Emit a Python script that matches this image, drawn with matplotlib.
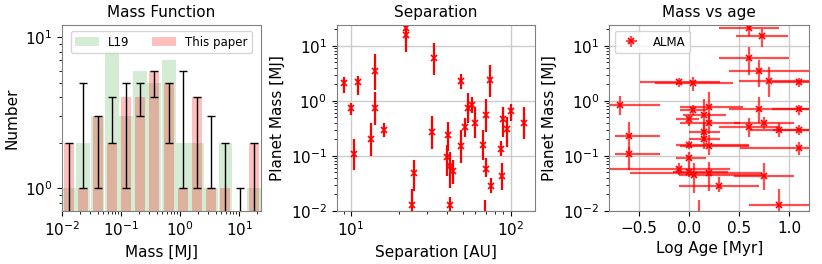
import numpy as np
import matplotlib
matplotlib.use("Agg")
import matplotlib.pyplot as plt
from matplotlib.ticker import NullFormatter

# ---------------- data ----------------
# Mass function (log-spaced bins in Jupiter masses)
bin_lo_log = -2.0
bin_hi_log = 1.37
n_bins = 14
counts_L19 = [1, 2, 3, 8, 3, 6, 5, 7, 2, 2, 1, 2, 0, 1]
counts_paper = [2, 1, 3, 2, 4, 4, 6, 5, 1, 4, 1, 1, 0, 2]
range_low = [0, 1, 1, 2, 1, 3, 4, 2, 1, 1, 1, 0, 0, 0]
range_high = [2, 5, 3, 4, 5, 5, 6, 5, 6, 4, 3, 2, 1, 2]

# Separation panel
sep_au = [9.0, 10.0, 10.5, 11.1, 13.3, 14.1, 14.1, 16.1, 22.1, 22.1, 24.2, 24.9,
          32.4, 33.3, 39.7, 40.7, 41.7, 41.7, 43.7, 48.6, 48.6, 51.8, 53.8, 57.5,
          59.8, 67.5, 69.7, 69.7, 69.0, 74.3, 75.0, 86.5, 87.9, 90.0, 95.3, 100.0, 121.0]
sep_mass = [2.12, 0.73, 0.11, 2.2, 0.20, 3.5, 0.75, 0.30, 20.7, 15.6, 0.0127, 0.048,
            0.27, 6.1, 0.096, 0.24, 0.066, 0.0127, 0.053, 2.28, 0.152, 0.34, 0.73, 0.83,
            0.40, 0.16, 0.55, 0.059, 0.008, 2.38, 0.029, 0.136, 0.043, 0.46, 0.31, 0.66, 0.40]
sep_mass_lo = [1.40, 0.55, 0.055, 1.27, 0.099, 1.56, 0.37, 0.22, 12.0, 7.8, 0.008, 0.023,
               0.132, 2.93, 0.043, 0.123, 0.026, 0.010, 0.031, 1.61, 0.073, 0.22, 0.39, 0.59,
               0.21, 0.083, 0.27, 0.042, 0.004, 1.18, 0.021, 0.098, 0.024, 0.22, 0.146, 0.43, 0.20]
sep_mass_hi = [2.73, 0.93, 0.20, 2.81, 0.39, 6.95, 1.46, 0.40, 30.0, 24.0, 0.0255, 0.086,
               0.53, 11.0, 0.16, 0.415, 0.118, 0.018, 0.086, 3.05, 0.29, 0.48, 1.36, 1.18,
               0.78, 0.29, 1.07, 0.09, 0.0156, 4.45, 0.039, 0.19, 0.075, 0.78, 0.50, 0.87, 0.78]

# Mass vs age panel
log_age = [0.60, 0.73, 0.60, 0.70, 0.80, 1.10, -0.10, 0.04, -0.69, 0.04, 0.20, 0.00,
           0.15, 0.20, 0.15, 0.15, 0.00, 0.20, -0.60, -0.60, 0.00, -0.10, 0.00, 0.05,
           0.20, 0.75, 0.30, 0.90, 0.60, 0.75, 0.70, 0.90, 1.10, 1.10, 1.10, 0.10]
log_age_lo = [0.30, 0.47, 0.30, 0.40, 0.50, 0.83, -0.49, -0.34, -1.09, -0.09, -0.09, -0.13,
              -0.06, -0.09, 0.00, 0.00, -0.13, -0.09, -0.74, -0.74, -0.13, -0.90, -0.16, -0.10,
              -0.59, 0.45, -0.10, 0.60, 0.30, 0.45, 0.40, 0.61, 0.83, 0.84, 0.51, -0.20]
log_age_hi = [0.90, 0.99, 1.00, 1.30, 1.30, 1.40, 0.31, 0.44, -0.29, 0.17, 0.54, 0.10,
              0.37, 0.51, 0.31, 0.31, 0.60, 0.60, -0.29, -0.29, 0.17, 0.41, 0.39, 0.74,
              0.73, 1.05, 0.70, 1.20, 0.91, 1.05, 1.30, 1.20, 1.40, 1.40, 1.40, 0.40]
age_mass = [20.7, 15.2, 6.1, 3.5, 2.28, 2.21, 2.21, 2.12, 0.83, 0.68, 0.76, 0.46,
            0.55, 0.40, 0.27, 0.20, 0.16, 0.15, 0.23, 0.11, 0.09, 0.059, 0.051, 0.0445,
            0.048, 0.043, 0.029, 0.0127, 0.33, 0.40, 0.70, 0.29, 0.70, 0.29, 0.14, 0.008]
age_mass_lo = [15.0, 9.6, 2.93, 1.75, 1.18, 1.75, 1.75, 1.52, 0.55, 0.55, 0.40, 0.35,
               0.27, 0.25, 0.19, 0.136, 0.132, 0.103, 0.118, 0.055, 0.063, 0.0445, 0.0415, 0.021,
               0.023, 0.024, 0.022, 0.010, 0.22, 0.31, 0.39, 0.22, 0.55, 0.24, 0.103, 0.004]
age_mass_hi = [26.0, 20.0, 9.6, 5.5, 4.15, 2.55, 2.55, 2.73, 1.22, 0.83, 1.46, 0.55,
               1.06, 0.59, 0.39, 0.27, 0.19, 0.24, 0.415, 0.146, 0.118, 0.073, 0.063, 0.073,
               0.078, 0.075, 0.0415, 0.0255, 0.48, 0.51, 1.18, 0.39, 0.83, 0.36, 0.18, 0.0156]

# ---------------- figure ----------------
plt.rcParams["font.family"] = ["DejaVu Sans"]
FS = 11
LFS = 8.5
fig = plt.figure(figsize=(8.22, 2.64), dpi=100)

ax1 = fig.add_axes([62 / 822, 1 - 211 / 264, 199 / 822, 186 / 264])
ax2 = fig.add_axes([336.7 / 822, 1 - 211 / 264, 198.3 / 822, 186 / 264])
ax3 = fig.add_axes([609 / 822, 1 - 211 / 264, 200.3 / 822, 186 / 264])

# ---- left: histogram ----
edges_log = np.linspace(bin_lo_log, bin_hi_log, n_bins + 1)
w = edges_log[1] - edges_log[0]
centers = 10 ** (edges_log[:-1] + w / 2)
ax1.set_xscale("log")
ax1.set_yscale("log")


def draw_bars(ax, counts, rwidth, color, alpha, label):
    first = True
    for i, c in enumerate(counts):
        if c <= 0:
            continue
        l = 10 ** (edges_log[i] + (1 - rwidth) / 2 * w)
        r = 10 ** (edges_log[i] + (1 + rwidth) / 2 * w)
        ax.bar(l, c, width=r - l, align="edge", color=color, alpha=alpha,
               linewidth=0, label=label if first else None)
        first = False


draw_bars(ax1, counts_L19, 0.97, "C2", 0.2, "L19")
draw_bars(ax1, counts_paper, 0.7, "red", 0.25, "This paper")
lo = np.array(range_low, float)
hi = np.array(range_high, float)
ax1.errorbar(centers, (lo + hi) / 2, yerr=(hi - lo) / 2, fmt="none", ecolor="black",
             elinewidth=1, capsize=3, capthick=1)
ax1.set_xlim(10 ** bin_lo_log, 10 ** bin_hi_log)
ax1.set_ylim(0.71, 12)
ax1.yaxis.set_minor_formatter(NullFormatter())
ax1.set_title("Mass Function", fontsize=FS)
ax1.set_xlabel("Mass [MJ]", fontsize=FS)
ax1.set_ylabel("Number", fontsize=FS)
ax1.legend(ncol=2, loc="upper center", fontsize=LFS, handlelength=2.0, columnspacing=1.9)

# ---- middle: separation ----
m = np.array(sep_mass)
ax2.errorbar(sep_au, m, yerr=[m - np.array(sep_mass_lo), np.array(sep_mass_hi) - m],
             fmt="x", color="red", ecolor="red", elinewidth=1.6, markersize=5, mew=1.2)
ax2.set_xscale("log")
ax2.set_yscale("log")
ax2.set_xlim(8.15, 142)
ax2.set_ylim(0.01, 23.8)
ax2.grid(True, color="0.8", lw=1)
ax2.set_axisbelow(True)
ax2.set_title("Separation", fontsize=FS)
ax2.set_xlabel("Separation [AU]", fontsize=FS)
ax2.set_ylabel("Planet Mass [MJ]", fontsize=FS)

# ---- right: mass vs age ----
a = np.array(log_age)
m3 = np.array(age_mass)
ax3.errorbar(a, m3, xerr=[a - np.array(log_age_lo), np.array(log_age_hi) - a],
             yerr=[m3 - np.array(age_mass_lo), np.array(age_mass_hi) - m3],
             fmt="x", color="red", ecolor=(1, 0, 0, 0.7), elinewidth=1.6,
             markersize=5, mew=1.2, label="ALMA")
ax3.set_yscale("log")
ax3.set_xlim(-0.8, 1.2)
ax3.set_ylim(0.01, 23.8)
ax3.grid(True, color="0.8", lw=1)
ax3.set_axisbelow(True)
ax3.set_title("Mass vs age", fontsize=FS)
ax3.set_xlabel("Log Age [Myr]", fontsize=FS)
ax3.set_ylabel("Planet Mass [MJ]", fontsize=FS)
ax3.legend(loc="upper left", fontsize=LFS)

for ax in (ax1, ax2, ax3):
    ax.tick_params(labelsize=FS)
    for s in ax.spines.values():
        s.set_color("0.5")

fig.savefig("out.png", dpi=100)
